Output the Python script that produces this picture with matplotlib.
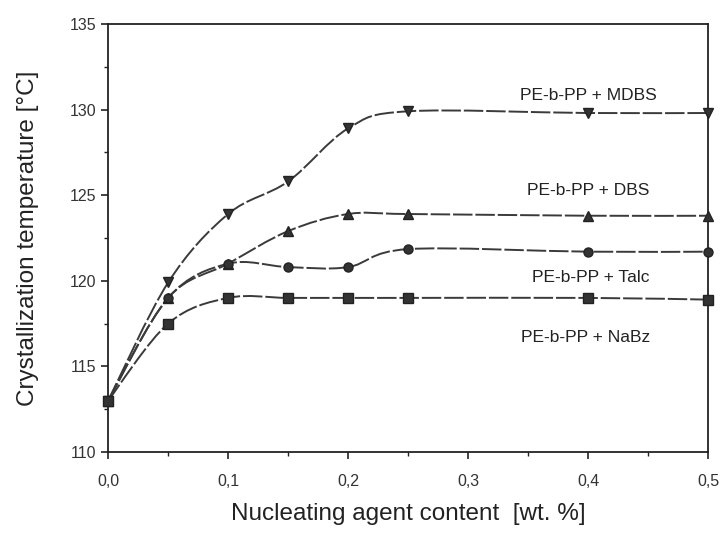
import numpy as np
import matplotlib.pyplot as plt
from matplotlib.path import Path
from matplotlib.patches import PathPatch
from matplotlib.ticker import MultipleLocator, FuncFormatter

plt.rcParams['font.family'] = ['Liberation Sans', 'DejaVu Sans']

# nucleating agent content [wt. %]
content = [0.0, 0.05, 0.1, 0.15, 0.2, 0.25, 0.4, 0.5]

# crystallization temperature [°C]
tc_mdbs = [113.0, 119.9, 123.9, 125.8, 128.9, 129.9, 129.8, 129.8]
tc_dbs = [113.0, 119.0, 121.0, 122.9, 123.9, 123.9, 123.8, 123.8]
tc_talc = [113.0, 119.0, 121.0, 120.8, 120.8, 121.85, 121.7, 121.7]
tc_nabz = [113.0, 117.5, 119.0, 119.0, 119.0, 119.0, 119.0, 118.9]

labels = ["PE-b-PP + MDBS", "PE-b-PP + DBS", "PE-b-PP + Talc", "PE-b-PP + NaBz"]
markers = ["v", "^", "o", "s"]
label_pos = [(0.40, 130.85), (0.40, 125.3), (0.402, 120.2), (0.398, 116.7)]


def smooth_path(x, y):
    # Catmull-Rom style cubic Bezier segments through the measured points
    x = np.asarray(x, float)
    y = np.asarray(y, float)
    n = len(x)
    verts = [(x[0], y[0])]
    codes = [Path.MOVETO]
    for i in range(n - 1):
        i0 = max(i - 1, 0)
        i3 = min(i + 2, n - 1)
        c1 = (x[i] + (x[i + 1] - x[i0]) / 6, y[i] + (y[i + 1] - y[i0]) / 6)
        c2 = (x[i + 1] - (x[i3] - x[i]) / 6, y[i + 1] - (y[i3] - y[i]) / 6)
        verts += [c1, c2, (x[i + 1], y[i + 1])]
        codes += [Path.CURVE4] * 3
    return Path(verts, codes)


fig = plt.figure(figsize=(7.21, 5.33), dpi=100)
ax = fig.add_axes([0.15, 0.152, 0.832, 0.803])

for tc, m in zip([tc_mdbs, tc_dbs, tc_talc, tc_nabz], markers):
    patch = PathPatch(smooth_path(content, tc), fill=False, edgecolor="#3a3a3a",
                      linewidth=1.4, linestyle=(0, (10, 1.5)), transform=ax.transData)
    ax.add_patch(patch)
    ax.plot(content, tc, linestyle="none", marker=m, markersize=6.5,
            color="#333333", markeredgecolor="#222222", clip_on=False, zorder=3)

for text, (tx, ty) in zip(labels, label_pos):
    ax.text(tx, ty, text, fontsize=12.5, ha="center", va="center", color="#222222")

ax.set_xlim(0.0, 0.5)
ax.set_ylim(110, 135)
ax.xaxis.set_major_locator(MultipleLocator(0.1))
ax.xaxis.set_minor_locator(MultipleLocator(0.05))
ax.yaxis.set_major_locator(MultipleLocator(5))
ax.yaxis.set_minor_locator(MultipleLocator(2.5))
ax.xaxis.set_major_formatter(FuncFormatter(lambda v, p: f"{v:.1f}".replace(".", ",")))

ax.tick_params(which="both", direction="out", color="#222222", labelcolor="#333333",
               labelsize=11.5, top=False, right=False)
ax.tick_params(which="major", length=5, width=1.2)
ax.tick_params(which="minor", length=3, width=1.0)
ax.tick_params(axis="x", pad=11)

for s in ax.spines.values():
    s.set_linewidth(1.3)
    s.set_color("#222222")

ax.set_xlabel("Nucleating agent content  [wt. %]", fontsize=17.5, color="#222222", labelpad=10)
ax.set_ylabel("Crystallization temperature [°C]", fontsize=17.5, color="#222222", labelpad=22)

fig.savefig("out.png", dpi=100)
